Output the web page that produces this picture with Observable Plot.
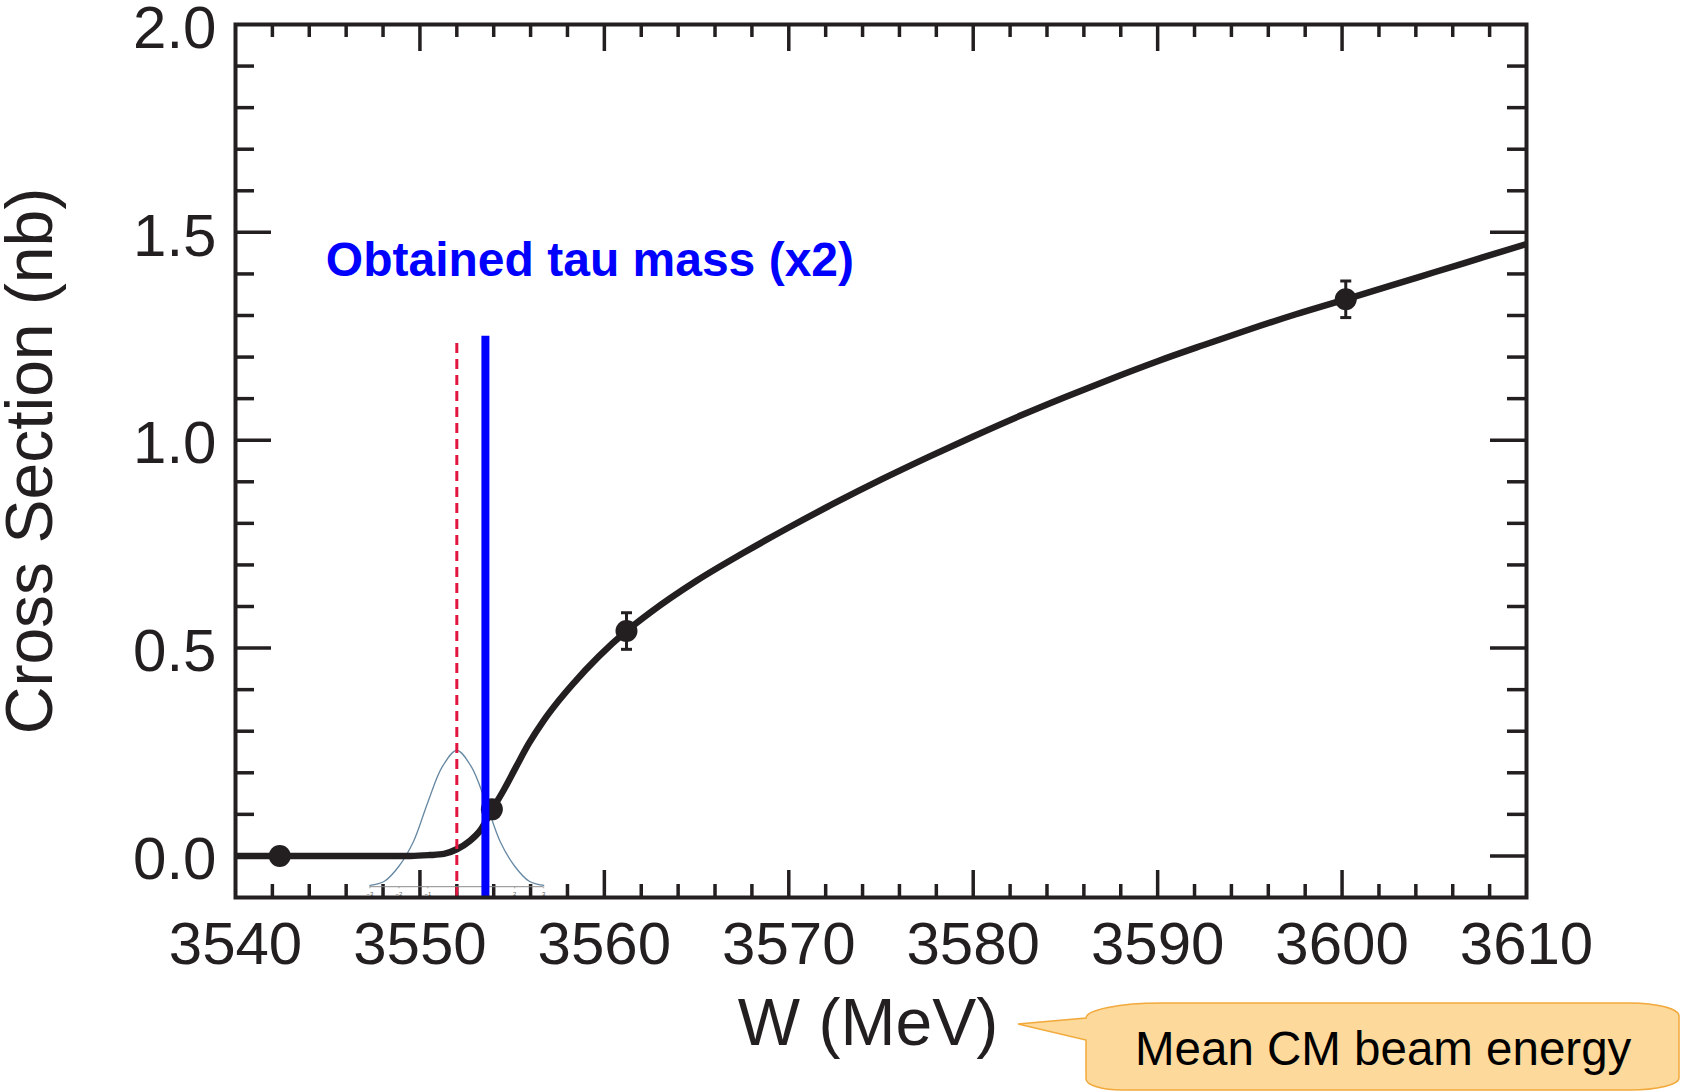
<!DOCTYPE html>
<html>
<head>
<meta charset="utf-8">
<script src="https://cdn.jsdelivr.net/npm/d3@7"></script>
<script src="https://cdn.jsdelivr.net/npm/@observablehq/plot@0.6"></script>
<style>
  html, body { margin: 0; padding: 0; background: #fff; }
  #chart { position: relative; width: 1683px; height: 1091px; overflow: hidden; }
  #callout { position: absolute; left: 0; top: 0; pointer-events: none; }
</style>
</head>
<body>
<div id="chart"></div>
<script>
// e+e- -> tau+ tau- cross section near threshold, with the fitted curve

// Fitted cross-section curve: W (MeV) and cross section (nb)
const curveW = [3540.0, 3546.0, 3549.5, 3550.5, 3551.3, 3552.0, 3552.7, 3553.3, 3553.9, 3554.5,
  3555.2, 3555.9, 3556.7, 3557.5, 3558.3, 3559.7, 3561.2, 3562.5, 3565.0, 3567.5,
  3570.0, 3572.5, 3575.0, 3577.5, 3580.0, 3582.5, 3585.0, 3587.5, 3590.0, 3592.5,
  3595.0, 3597.5, 3600.2, 3602.5, 3605.0, 3607.5, 3610.0];
const curveSigma = [0.0, 0.0, 0.0, 0.002, 0.005, 0.016, 0.036, 0.063, 0.110, 0.155,
  0.213, 0.270, 0.325, 0.372, 0.414, 0.480, 0.541, 0.586, 0.662, 0.728,
  0.790, 0.849, 0.905, 0.958, 1.009, 1.058, 1.104, 1.148, 1.190, 1.229,
  1.267, 1.303, 1.339, 1.370, 1.404, 1.438, 1.472];

// Measured scan points
const pointW = [3542.4, 3553.9, 3561.2, 3600.2];
const pointSigma = [0.0, 0.112, 0.541, 1.339];
const pointErr = [0, 0, 0.044, 0.044];

// Vertical markers
const tauMassX2 = 3553.55;      // obtained tau mass (x2)
const tauLineTop = 1.25;
const beamEnergy = 3552.0;      // mean CM beam energy
const beamLineTop = 1.234;

// Beam energy spread inset, in units of its own sigma
const spreadZ = [-3, -2.5, -2, -1.5, -1, -0.5, 0, 0.5, 1, 1.5, 2, 2.5, 3];
const spreadHeight = [0.01, 0.04, 0.15, 0.33, 0.62, 0.88, 1, 0.88, 0.62, 0.33, 0.15, 0.04, 0.01];
const spreadTicks = [-3, -2, -1, 0, 1, 2, 3];
const spreadSigmaMeV = 1.57;
const spreadBase = -0.074;
const spreadPeak = 0.254;

// Axis ticks
const xTickLabels = [3540, 3550, 3560, 3570, 3580, 3590, 3600, 3610];
const yTickLabels = [0.0, 0.5, 1.0, 1.5, 2.0];
const xMajor = [3550, 3560, 3570, 3580, 3590, 3600];
const xMinor = d3.range(3542, 3610, 2).filter(v => v % 10 !== 0);
const yMajor = [0.0, 0.5, 1.0, 1.5];
const yMinor = d3.range(1, 20).filter(i => i % 5 !== 0).map(i => i / 10);

// Text
const xTitle = "W (MeV)";
const yTitle = "Cross Section (nb)";
const tauLabel = "Obtained tau mass (x2)";
const tauLabelW = 3544.9;
const tauLabelSigma = 1.432;
const calloutText = "Mean CM beam energy";

// Tables built from the arrays above
const curve = curveW.map((w, i) => ({W: w, sigma: curveSigma[i]}));
const points = pointW.map((w, i) => ({W: w, sigma: pointSigma[i], err: pointErr[i]}));
const errPoints = points.filter(d => d.err > 0);
const spread = spreadZ.map((z, i) => ({
  W: beamEnergy + z * spreadSigmaMeV,
  sigma: spreadBase + spreadHeight[i] * (spreadPeak - spreadBase)
}));
const spreadTickData = spreadTicks.map(z => ({z, W: beamEnergy + z * spreadSigmaMeV}));

// Layout
const width = 1683, height = 1091;
const margin = {top: 24, right: 157, bottom: 194, left: 235};
const frameW = width - margin.left - margin.right;
const frameH = height - margin.top - margin.bottom;
const ink = "#231f20";
const tickW = 3.5;

// Short horizontal stroke used for error-bar caps
const capSymbol = {draw(ctx, size) { const r = Math.sqrt(size / Math.PI); ctx.moveTo(-r, 0); ctx.lineTo(r, 0); }};
// Short downward stroke used for the inset's ticks
const downTick = {draw(ctx, size) { const r = Math.sqrt(size / Math.PI); ctx.moveTo(0, 0); ctx.lineTo(0, r); }};

const chart = Plot.plot({
  width, height,
  marginTop: margin.top, marginRight: margin.right, marginBottom: margin.bottom, marginLeft: margin.left,
  x: {domain: [3540, 3610], label: null},
  y: {domain: [-0.1, 2.0], label: null},
  style: {fontFamily: "'Liberation Sans', Arial, Helvetica, sans-serif", color: ink, background: "#fff", overflow: "visible"},
  marks: [
    // inward ticks on all four sides
    Plot.ruleX(xMinor, {x: d => d, stroke: ink, strokeWidth: tickW, insetTop: frameH - 13}),
    Plot.ruleX(xMinor, {x: d => d, stroke: ink, strokeWidth: tickW, insetBottom: frameH - 13}),
    Plot.ruleX(xMajor, {x: d => d, stroke: ink, strokeWidth: tickW, insetTop: frameH - 27}),
    Plot.ruleX(xMajor, {x: d => d, stroke: ink, strokeWidth: tickW, insetBottom: frameH - 27}),
    Plot.ruleY(yMinor, {y: d => d, stroke: ink, strokeWidth: tickW, insetRight: frameW - 19}),
    Plot.ruleY(yMinor, {y: d => d, stroke: ink, strokeWidth: tickW, insetLeft: frameW - 19}),
    Plot.ruleY(yMajor, {y: d => d, stroke: ink, strokeWidth: tickW, insetRight: frameW - 36}),
    Plot.ruleY(yMajor, {y: d => d, stroke: ink, strokeWidth: tickW, insetLeft: frameW - 36}),

    // tick labels
    Plot.axisX(xTickLabels, {anchor: "bottom", tickSize: 0, tickPadding: 24, fontSize: 60, tickFormat: d => String(d), label: null}),
    Plot.axisY(yTickLabels, {anchor: "left", tickSize: 0, tickPadding: 19, fontSize: 60, dy: 4, tickFormat: d3.format(".1f"), label: null}),

    // axis titles
    Plot.text([xTitle], {frameAnchor: "bottom", textAnchor: "middle", lineAnchor: "middle", dx: -13, dy: 126, fontSize: 66, fill: ink}),
    Plot.text([yTitle], {frameAnchor: "left", textAnchor: "middle", lineAnchor: "middle", dx: -205, rotate: -90, fontSize: 66, fill: ink}),

    // beam energy spread inset
    Plot.ruleY([spreadBase], {x1: spreadTickData[0].W, x2: spreadTickData[spreadTickData.length - 1].W, stroke: "#8c8c8c", strokeWidth: 1}),
    Plot.dot(spreadTickData, {x: "W", y: () => spreadBase, symbol: downTick, r: 1.6, stroke: "#8c8c8c", strokeWidth: 0.8}),
    Plot.text(spreadTickData, {x: "W", y: () => spreadBase, text: d => d.z < 0 ? "\u2212" + (-d.z) : String(d.z), dy: 7, fontSize: 6, fill: "#555"}),
    Plot.line(spread, {x: "W", y: "sigma", curve: "catmull-rom", stroke: "#6688a3", strokeWidth: 1.3}),

    // fitted curve
    Plot.line(curve, {x: "W", y: "sigma", curve: "monotone-x", stroke: ink, strokeWidth: 6.5, strokeLinecap: "butt"}),

    // data points with error bars
    Plot.ruleX(errPoints, {x: "W", y1: d => d.sigma - d.err, y2: d => d.sigma + d.err, stroke: ink, strokeWidth: 3}),
    Plot.dot(errPoints, {x: "W", y: d => d.sigma - d.err, symbol: capSymbol, r: 5.5, stroke: ink, strokeWidth: 3}),
    Plot.dot(errPoints, {x: "W", y: d => d.sigma + d.err, symbol: capSymbol, r: 5.5, stroke: ink, strokeWidth: 3}),
    Plot.dot(points, {x: "W", y: "sigma", r: 11, fill: ink}),

    // mean CM beam energy (dashed) and obtained tau mass x2 (solid)
    Plot.ruleX([beamEnergy], {x: d => d, y1: -0.1, y2: beamLineTop, stroke: "#e0163f", strokeWidth: 3, strokeDasharray: "10,6"}),
    Plot.ruleX([tauMassX2], {x: d => d, y1: -0.1, y2: tauLineTop, stroke: "#0000ff", strokeWidth: 8}),
    Plot.text([tauLabel], {x: () => tauLabelW, y: () => tauLabelSigma, textAnchor: "start", fill: "#0000ff", fontWeight: "bold", fontSize: 48}),

    Plot.frame({stroke: ink, strokeWidth: 4})
  ]
});

const holder = document.getElementById("chart");
holder.appendChild(chart);

// Speech-bubble annotation pointing at the x-axis title
const ns = "http://www.w3.org/2000/svg";
const bubble = document.createElementNS(ns, "svg");
bubble.setAttribute("id", "callout");
bubble.setAttribute("width", width);
bubble.setAttribute("height", height);
const path = document.createElementNS(ns, "path");
path.setAttribute("d", [
  "M 1018 1024",
  "L 1086 1018",
  "A 75 15 0 0 1 1161 1003",
  "L 1630 1003",
  "A 49 13 0 0 1 1679 1016",
  "L 1679 1078",
  "A 49 12 0 0 1 1630 1090",
  "L 1122 1090",
  "A 36 11 0 0 1 1086 1079",
  "L 1086 1040",
  "Z"
].join(" "));
path.setAttribute("fill", "#fdd99b");
path.setAttribute("stroke", "#f2a93b");
path.setAttribute("stroke-width", "1.5");
bubble.appendChild(path);
const label = document.createElementNS(ns, "text");
label.setAttribute("x", 1135);
label.setAttribute("y", 1065);
label.setAttribute("font-family", "'Liberation Sans', Arial, Helvetica, sans-serif");
label.setAttribute("font-size", "47.5");
label.setAttribute("fill", "#000");
label.textContent = calloutText;
bubble.appendChild(label);
holder.appendChild(bubble);
</script>
</body>
</html>
